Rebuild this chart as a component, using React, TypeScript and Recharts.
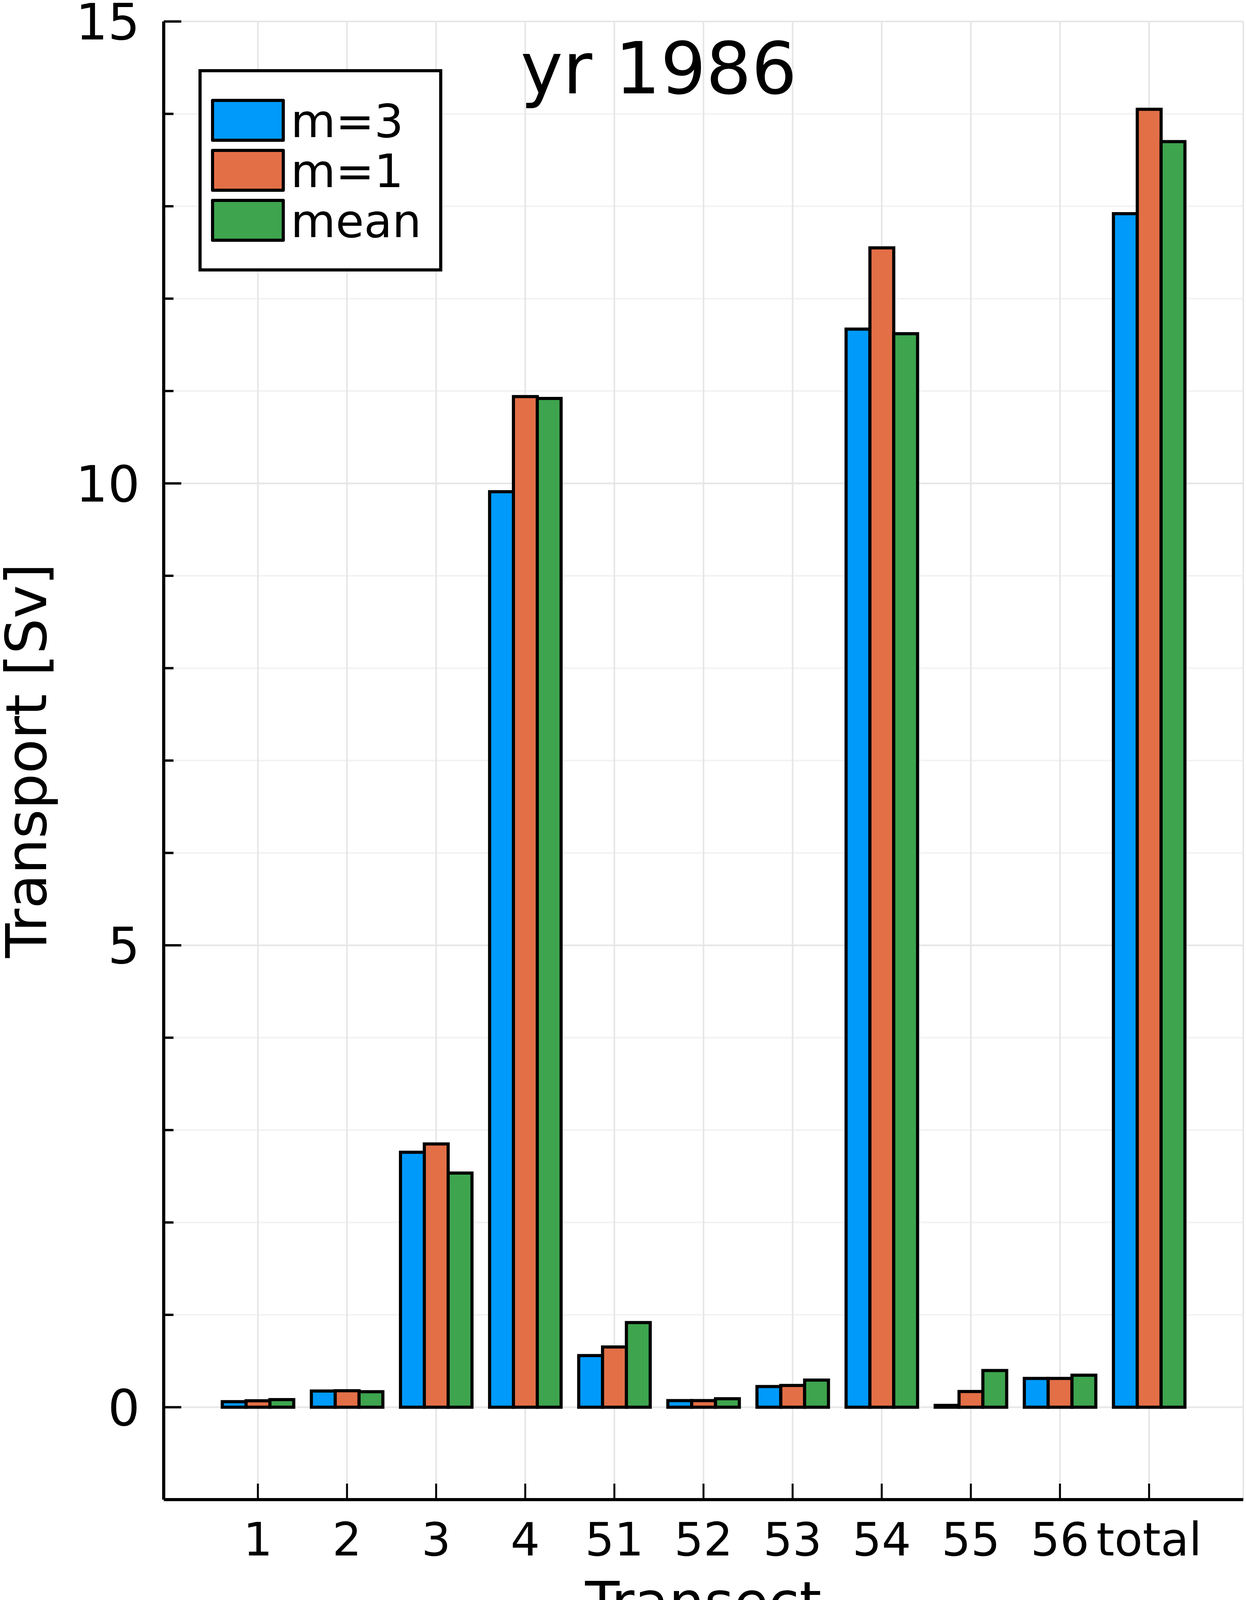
import React from 'react'
import { BarChart, Bar, XAxis, YAxis, CartesianGrid, Legend } from 'recharts'

// transport per transect (Sv)
const transects = ['1', '2', '3', '4', '51', '52', '53', '54', '55', '56', 'total']
const m3 = [0.06, 0.175, 2.76, 9.91, 0.559, 0.072, 0.224, 11.67, 0.02, 0.312, 12.92]
const m1 = [0.07, 0.179, 2.85, 10.94, 0.652, 0.072, 0.236, 12.55, 0.17, 0.312, 14.05]
const meanVals = [0.082, 0.168, 2.535, 10.92, 0.916, 0.092, 0.294, 11.62, 0.397, 0.347, 13.7]

const seriesNames = ['m=3', 'm=1', 'mean']
const seriesColors = ['#009AFA', '#E36F47', '#3EA44E']

const yTicks = [-1, 0, 1, 2, 3, 4, 5, 6, 7, 8, 9, 10, 11, 12, 13, 14, 15]
const yMajor = [0, 5, 10, 15]

const W = 3189
const H = 4162
const FONT = 'DejaVu Sans'

const chartData = transects.map((t, i) => ({
  transect: t,
  m3: m3[i],
  m1: m1[i],
  mean: meanVals[i],
}))

const YTick = (props: any) => {
  const { x, y, payload } = props
  const major = payload.value % 5 === 0
  return (
    <g>
      <line x1={x} x2={x + (major ? 45 : 25)} y1={y} y2={y} stroke="#000" strokeWidth={6} />
      {major && payload.value >= 0 && (
        <text x={x - 61} y={y + 46} textAnchor="end" fontSize={129} fontFamily={FONT} fill="#000">
          {payload.value}
        </text>
      )}
    </g>
  )
}

const XTick = (props: any) => {
  const { x, y, payload } = props
  return (
    <g>
      <line x1={x} x2={x} y1={y} y2={y - 41} stroke="#000" strokeWidth={5} />
      <text x={x} y={y + 143} textAnchor="middle" fontSize={118} fontFamily={FONT} fill="#000">
        {payload.value}
      </text>
    </g>
  )
}

const LegendBox = (props: any) => {
  // keep the series order (the library sorts legend items by name)
  const items = [...(props.payload || [])].sort(
    (a: any, b: any) => seriesNames.indexOf(a.value) - seriesNames.indexOf(b.value)
  )
  return (
    <svg width={1200} height={800} style={{ display: 'block' }}>
      <rect x={512} y={181} width={616} height={510} fill="#fff" stroke="#000" strokeWidth={8} />
      {items.map((it: any, i: number) => {
        const top = 257 + i * 128
        return (
          <g key={it.value}>
            <rect x={544} y={top} width={181} height={102} fill={it.color} stroke="#000" strokeWidth={8} strokeLinejoin="round" />
            <text x={744} y={top + 51 + 43} fontSize={118} fontFamily={FONT} fill="#000">
              {it.value}
            </text>
          </g>
        )
      })}
    </svg>
  )
}

export default function App() {
  return (
    <div style={{ position: 'absolute', left: 0, top: 0, width: W, height: H, background: '#fff' }}>
      <BarChart
        width={W}
        height={H}
        data={chartData}
        margin={{ top: 55, right: 7, bottom: 0, left: 0 }}
        barCategoryGap="10%"
        barGap={0}
      >
        <CartesianGrid horizontalValues={yTicks} vertical={false} stroke="#f2f2f2" strokeWidth={4} />
        <CartesianGrid horizontalValues={yMajor} stroke="#e6e6e6" strokeWidth={4} />
        <XAxis
          dataKey="transect"
          type="category"
          height={323}
          padding={{ left: 127, right: 127 }}
          axisLine={{ stroke: '#000', strokeWidth: 8 }}
          tickLine={false}
          tickSize={0}
          tickMargin={0}
          tick={<XTick />}
          interval={0}
          label={{
            content: () => (
              <text x={1800} y={4152} textAnchor="middle" fontSize={144} fontFamily={FONT} fill="#000">
                Transect
              </text>
            ),
          }}
        />
        <YAxis
          width={419}
          domain={[-1, 15]}
          ticks={yTicks}
          type="number"
          allowDataOverflow
          axisLine={{ stroke: '#000', strokeWidth: 8 }}
          tickLine={false}
          tickSize={0}
          tickMargin={0}
          tick={<YTick />}
          interval={0}
          label={{
            content: () => (
              <text
                x={118}
                y={1947}
                transform="rotate(-90 118 1947)"
                textAnchor="middle"
                fontSize={144}
                fontFamily={FONT}
                fill="#000"
              >
                Transport [Sv]
              </text>
            ),
          }}
        />
        <Legend
          layout="vertical"
          align="center"
          verticalAlign="middle"
          content={<LegendBox />}
          wrapperStyle={{ position: 'absolute', left: 0, top: 0, width: 1200, height: 800, pointerEvents: 'none' }}
        />
        <Bar dataKey="m3" name={seriesNames[0]} fill={seriesColors[0]} stroke="#000" strokeWidth={8} isAnimationActive={false} />
        <Bar dataKey="m1" name={seriesNames[1]} fill={seriesColors[1]} stroke="#000" strokeWidth={8} isAnimationActive={false} />
        <Bar dataKey="mean" name={seriesNames[2]} fill={seriesColors[2]} stroke="#000" strokeWidth={8} isAnimationActive={false} />
        <text x={1686} y={239} textAnchor="middle" fontSize={183} fontFamily={FONT} fill="#000">
          yr 1986
        </text>
      </BarChart>
    </div>
  )
}
